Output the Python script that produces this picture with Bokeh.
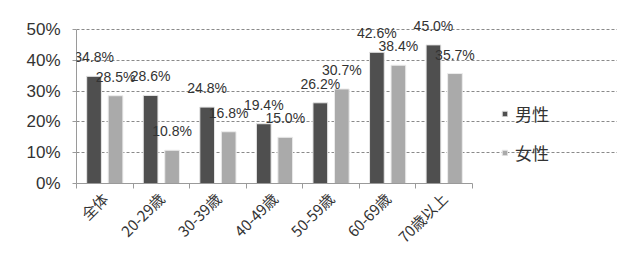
from bokeh.plotting import figure
from bokeh.models import ColumnDataSource, FixedTicker, NumeralTickFormatter, Range1d, LabelSet, Legend, LegendItem
from bokeh.core.properties import value
from bokeh.embed import file_html
from bokeh.resources import INLINE

categories = ["全体", "20-29歳", "30-39歳", "40-49歳", "50-59歳", "60-69歳", "70歳以上"]
male = [0.348, 0.286, 0.248, 0.194, 0.262, 0.426, 0.450]
female = [0.285, 0.108, 0.168, 0.150, 0.307, 0.384, 0.357]
series_names = ["男性", "女性"]
y_ticks = [0, 0.1, 0.2, 0.3, 0.4, 0.5]

n = len(categories)
centers = [i + 0.5 for i in range(n)]
off = 0.19
bw = 0.26

src = ColumnDataSource(dict(
    xm=[c - off for c in centers], xf=[c + off for c in centers],
    male=male, female=female,
    ml=[f"{v*100:.1f}%" for v in male], fl=[f"{v*100:.1f}%" for v in female],
))

# frame spans x 76..617, y 0..183 ; plotted data occupies 0..7 x 0..0.5
p = figure(width=617, height=267, output_backend="svg", toolbar_location=None,
           x_range=Range1d(0, 541 / 56.57), y_range=Range1d(0, 183 / 308.0),
           min_border_left=76, min_border_right=0, min_border_top=0, min_border_bottom=84)
p.outline_line_color = None
p.background_fill_color = "white"
p.border_fill_color = "white"

rm = p.vbar(x="xm", top="male", width=bw, source=src, fill_color="#4f4f4f", line_color="#e6e6e6", line_width=1)
rf = p.vbar(x="xf", top="female", width=bw, source=src, fill_color="#aaaaaa", line_color="#ececec", line_width=1)

font_num = "Liberation Sans"
font_cjk = "Noto Sans CJK JP"
txt = "#333333"

for xcol, tcol, ycol in [("xm", "ml", "male"), ("xf", "fl", "female")]:
    ls = LabelSet(x=xcol, y=ycol, text=tcol, source=src, y_offset=11, text_align="center",
                  text_baseline="bottom", text_font=value(font_num), text_font_size=value("14px"),
                  text_color=value(txt))
    p.add_layout(ls)

# x axis
p.xaxis.ticker = FixedTicker(ticks=centers, minor_ticks=list(range(n + 1)))
p.xaxis.bounds = (0, n)
p.xaxis.major_label_overrides = {c: lab for c, lab in zip(centers, categories)}
p.xaxis.major_label_orientation = 0.785398
p.xaxis.major_tick_line_color = None
p.xaxis.minor_tick_out = 5
p.xaxis.minor_tick_in = 0
p.xaxis.minor_tick_line_color = "#9a9a9a"
p.xaxis.axis_line_color = "#9a9a9a"
p.xaxis.major_label_text_font = font_cjk
p.xaxis.major_label_text_font_size = "15px"
p.xaxis.major_label_text_color = txt
p.xaxis.major_label_standoff = 6

# y axis
p.yaxis.ticker = FixedTicker(ticks=y_ticks)
p.yaxis.bounds = (0, 0.5)
p.yaxis.formatter = NumeralTickFormatter(format="0%")
p.yaxis.axis_line_color = "#9a9a9a"
p.yaxis.major_tick_line_color = "#9a9a9a"
p.yaxis.major_tick_out = 4
p.yaxis.major_tick_in = 0
p.yaxis.minor_tick_line_color = None
p.yaxis.major_label_text_font = font_num
p.yaxis.major_label_text_font_size = "17px"
p.yaxis.major_label_text_color = txt
p.yaxis.major_label_standoff = 12

p.xgrid.grid_line_color = None
p.ygrid.ticker = FixedTicker(ticks=y_ticks)
p.ygrid.bounds = (0, n)
p.ygrid.grid_line_color = "#8a8a8a"
p.ygrid.grid_line_dash = "3 2"

legend = Legend(items=[LegendItem(label=series_names[0], renderers=[rm]),
                       LegendItem(label=series_names[1], renderers=[rf])],
                location=(425, 18), orientation="vertical",
                label_text_font=font_cjk, label_text_font_size="17px", label_text_color=txt,
                glyph_width=7, glyph_height=7, label_standoff=7, spacing=14,
                border_line_color=None, background_fill_alpha=0, padding=4, margin=0)
p.add_layout(legend, "center")

open("out.html", "w").write(file_html(p, INLINE))
